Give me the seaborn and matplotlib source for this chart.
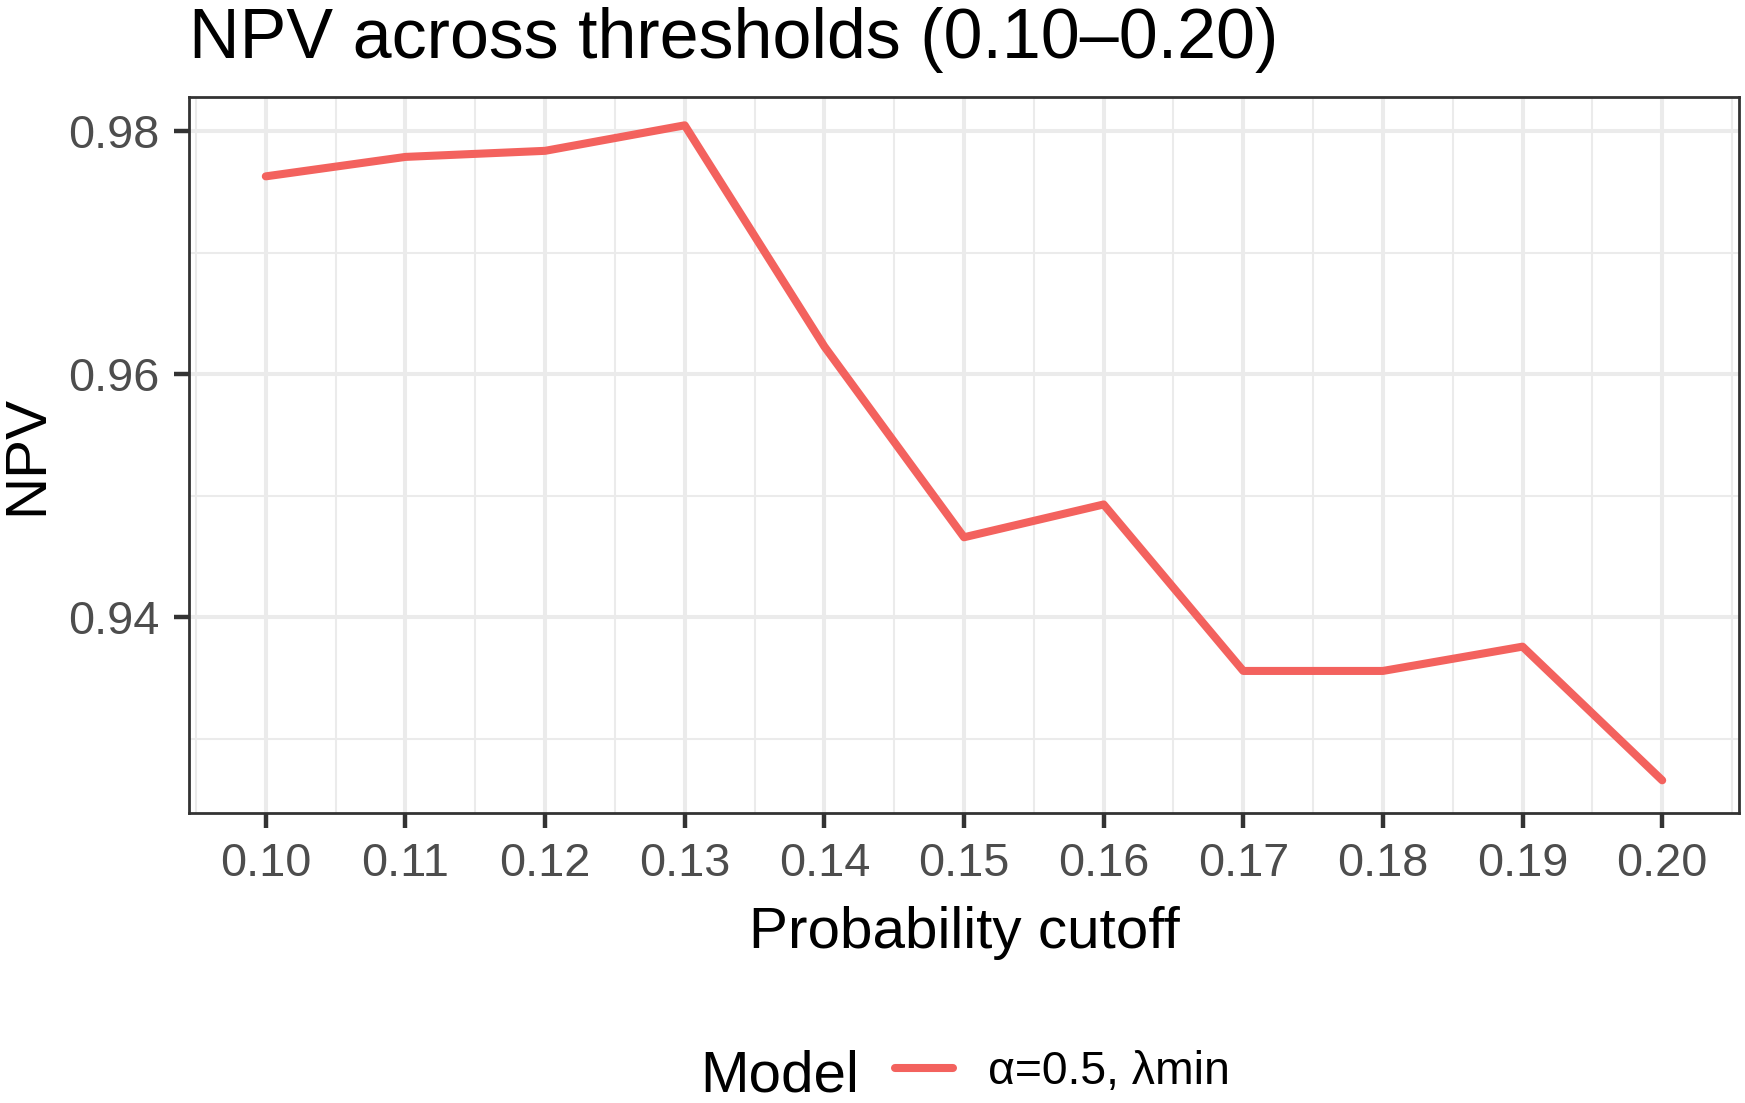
import numpy as np
import pandas as pd
import matplotlib
matplotlib.use("Agg")
import matplotlib.pyplot as plt
from matplotlib.ticker import MultipleLocator, AutoMinorLocator, FormatStrFormatter
import seaborn as sns

# ====== DATA ======
cutoffs = [0.10, 0.11, 0.12, 0.13, 0.14, 0.15, 0.16, 0.17, 0.18, 0.19, 0.20]
npv = [0.9763, 0.9779, 0.9784, 0.9805, 0.9623, 0.9466, 0.9493, 0.9356, 0.9356, 0.9376, 0.9266]
model_name = "α=0.5, λmin"
line_color = "#F3625E"

df = pd.DataFrame({"cutoff": cutoffs, "NPV": npv, "Model": [model_name] * len(cutoffs)})

# ====== STYLE ======
sns.set_theme(style="white")
plt.rcParams["font.family"] = ["Liberation Sans", "DejaVu Sans"]

W, H, DPI = 1745, 1103, 200
fig = plt.figure(figsize=(W / DPI, H / DPI), dpi=DPI)
ax = fig.add_axes([189 / W, 1 - 813 / H, (1739 - 189) / W, (813 - 97) / H])

sns.lineplot(data=df, x="cutoff", y="NPV", hue="Model", palette=[line_color],
             linewidth=2.9, ax=ax)

# ====== AXES ======
ax.set_xlim(0.0945, 0.2055)
ax.set_ylim(0.92391, 0.98283)
ax.xaxis.set_major_locator(MultipleLocator(0.01))
ax.xaxis.set_minor_locator(AutoMinorLocator(2))
ax.yaxis.set_major_locator(MultipleLocator(0.02))
ax.yaxis.set_minor_locator(AutoMinorLocator(2))
ax.xaxis.set_major_formatter(FormatStrFormatter("%.2f"))
ax.yaxis.set_major_formatter(FormatStrFormatter("%.2f"))

ax.grid(which="major", color="#EBEBEB", linewidth=1.45)
ax.grid(which="minor", color="#EBEBEB", linewidth=0.75)
ax.set_axisbelow(True)

for s in ax.spines.values():
    s.set_visible(True)
    s.set_color("#333333")
    s.set_linewidth(1.0)

ax.tick_params(which="major", length=5.4, width=1.6, color="#333333",
               labelsize=16.9, labelcolor="#4D4D4D", pad=5.2,
               bottom=True, left=True)
ax.tick_params(which="minor", length=0)

ax.set_xlabel("Probability cutoff", fontsize=21, color="black", labelpad=7)
ax.set_ylabel("NPV", fontsize=21, color="black", labelpad=5)
ax.set_title("NPV across thresholds (0.10–0.20)", loc="left", fontsize=25.2,
             color="black", pad=14)
ax.title.set_x(-0.001)

# ====== LEGEND (bottom, ggplot style) ======
handles, labels = ax.get_legend_handles_labels()
ax.get_legend().remove()
fig.text(700 / W, 1 - 1091 / H, "Model", fontsize=21, color="black",
         ha="left", va="baseline")
leg = fig.legend(handles, labels, loc="center left",
                 bbox_to_anchor=(895 / W, 1 - 1072 / H),
                 frameon=False, fontsize=16.7, handlelength=1.25,
                 handletextpad=0.75, borderpad=0, borderaxespad=0)
for t in leg.get_texts():
    t.set_color("black")
for h in leg.get_lines():
    h.set_linewidth(2.9)

fig.savefig("out.png", dpi=DPI)
